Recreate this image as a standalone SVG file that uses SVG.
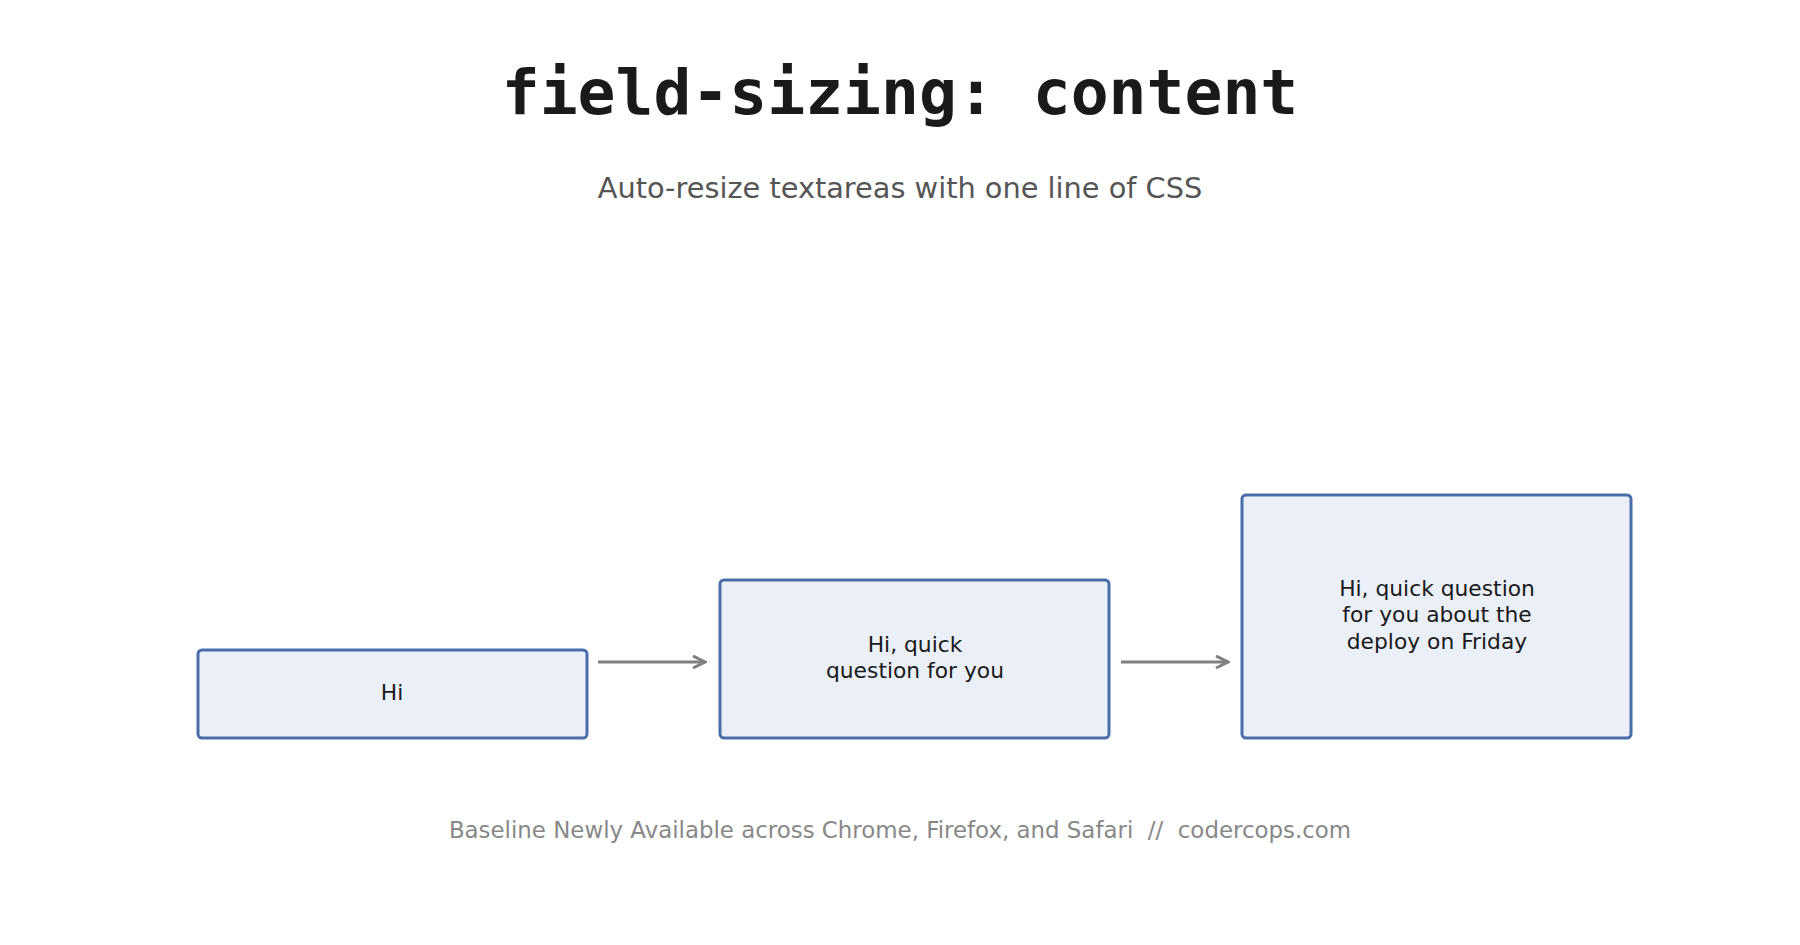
<svg xmlns="http://www.w3.org/2000/svg" width="1800" height="945" viewBox="0 0 1800 945">
<style>
.box{fill:#eaeff8;stroke:#4a6ea9;stroke-width:3}
.lbl{font-family:"DejaVu Sans",sans-serif;font-size:21.8px;fill:#1a1a1a;text-anchor:middle}
.conn{stroke:#808080;stroke-width:3;fill:none}
</style>
<defs><marker id="ah" viewBox="0 0 10 10" refX="9" refY="5" markerWidth="5" markerHeight="5" orient="auto"><path d="M1,1 L9,5 L1,9" fill="none" stroke="#808080" stroke-width="2"/></marker></defs>
<rect width="1800" height="945" fill="#fff"/>
<text x="900" y="114" font-family="DejaVu Sans Mono,monospace" font-weight="bold" font-size="63" fill="#1a1a1a" text-anchor="middle">field-sizing: content</text>
<text x="900" y="198" font-family="DejaVu Sans,sans-serif" font-size="28.8" fill="#555" text-anchor="middle">Auto-resize textareas with one line of CSS</text>
<g id="box1"><rect class="box" x="198" y="650" width="389" height="88" rx="4"/><text class="lbl" x="392" y="700">Hi</text></g>
<g id="box2"><rect class="box" x="720" y="580" width="389" height="158" rx="4"/><text class="lbl" x="915" y="652">Hi, quick</text><text class="lbl" x="915" y="678">question for you</text></g>
<g id="box3"><rect class="box" x="1242" y="495" width="389" height="243" rx="4"/><text class="lbl" x="1437" y="596">Hi, quick question</text><text class="lbl" x="1437" y="622">for you about the</text><text class="lbl" x="1437" y="649">deploy on Friday</text></g>
<g id="connectors"><line class="conn" x1="598" y1="662" x2="705" y2="662" marker-end="url(#ah)"/><line class="conn" x1="1121" y1="662" x2="1228" y2="662" marker-end="url(#ah)"/></g>
<text x="900" y="838" font-family="DejaVu Sans,sans-serif" font-size="22.9" fill="#888" text-anchor="middle" xml:space="preserve">Baseline Newly Available across Chrome, Firefox, and Safari  //  codercops.com</text>
</svg>
